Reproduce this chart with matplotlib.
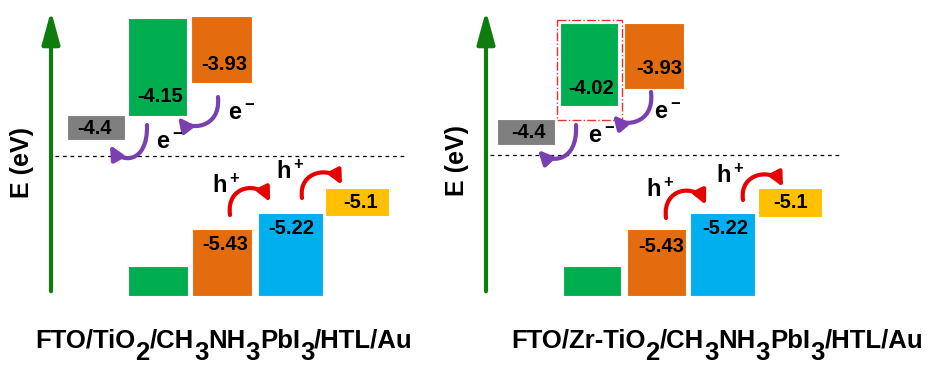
import matplotlib.pyplot as plt
from matplotlib.patches import Rectangle, FancyArrowPatch
from matplotlib.path import Path

plt.rcParams['font.family'] = ['Liberation Sans', 'DejaVu Sans']
plt.rcParams['mathtext.fontset'] = 'custom'
plt.rcParams['mathtext.rm'] = 'Liberation Sans:bold'
plt.rcParams['mathtext.bf'] = 'Liberation Sans:bold'
plt.rcParams['mathtext.it'] = 'Liberation Sans:bold'

# device stacks, written as (text, is_subscript) pieces
device_titles = [
    [('FTO/TiO', 0), ('2', 1), ('/CH', 0), ('3', 1), ('NH', 0), ('3', 1),
     ('PbI', 0), ('3', 1), ('/HTL/Au', 0)],
    [('FTO/Zr-TiO', 0), ('2', 1), ('/CH', 0), ('3', 1), ('NH', 0), ('3', 1),
     ('PbI', 0), ('3', 1), ('/HTL/Au', 0)],
]

# energy levels (eV) for the two devices
fto_wf = [-4.4, -4.4]
etl_cb = [-4.15, -4.02]
pvk_cb = [-3.93, -3.93]
pvk_vb = [-5.43, -5.43]
htl_homo = [-5.22, -5.22]
au_wf = [-5.1, -5.1]

GREEN = '#00AD4F'
ORANGE = '#E36C0E'
BLUE = '#00B0EE'
YELLOW = '#FFC000'
GRAY = '#7F7F7F'
PURPLE = '#7A3FB0'
RED = '#E80000'

# schematic layout in pixels: (x, y, w, h) per box plus label anchor
layout = [
    dict(fto=(67, 115, 58, 25, 94, 128),
         etl=(128, 18, 59, 98, 160, 97),
         etl_vb=(128, 266, 60, 30),
         pvk_cb=(191, 16, 61, 67, 224, 65),
         pvk_vb=(192, 229, 60, 67, 225, 244),
         htl=(258, 213, 65, 83, 291, 228),
         au=(325, 188, 64, 28, 361, 203),
         arrow_x=51, dash=(55, 405, 156),
         elabel=(22, 163), title_x=224,
         e1=[(147, 125), (148, 165), (120, 163), (110, 145)], e1t=(170, 143),
         e2=[(218, 97), (221, 130), (188, 130), (178, 117)], e2t=(242, 114),
         h1=[(230, 215), (226, 184), (260, 182), (270, 202)], h1t=(226, 186),
         h2=[(302, 198), (298, 170), (332, 166), (342, 185)], h2t=(290, 172),
         box=None),
    dict(fto=(497, 119, 58, 26, 528, 133),
         etl=(560, 23, 58, 83, 591, 89),
         etl_vb=(563, 266, 58, 30),
         pvk_cb=(624, 23, 60, 66, 659, 68),
         pvk_vb=(627, 229, 59, 67, 661, 246),
         htl=(690, 213, 65, 83, 725, 229),
         au=(758, 188, 64, 29, 791, 203),
         arrow_x=486, dash=(490, 840, 155),
         elabel=(457, 160), title_x=717,
         e1=[(576, 125), (578, 163), (550, 163), (538, 150)], e1t=(602, 137),
         e2=[(651, 92), (655, 125), (623, 127), (613, 115)], e2t=(668, 113),
         h1=[(666, 218), (662, 187), (696, 184), (706, 205)], h1t=(660, 190),
         h2=[(743, 200), (739, 172), (773, 168), (783, 187)], h2t=(730, 176),
         box=(557, 20, 65, 100)),
]

fig = plt.figure(figsize=(9.32, 3.65), dpi=100)
ax = fig.add_axes([0, 0, 1, 1])
ax.set_xlim(0, 932)
ax.set_ylim(365, 0)
ax.axis('off')
renderer = fig.canvas.get_renderer()

lab_kw = dict(fontsize=14.5, fontweight='bold', color='black', ha='center', va='center')


def draw_box(spec, color, value=None, z=2):
    x, y, w, h = spec[:4]
    ax.add_patch(Rectangle((x, y), w, h, facecolor=color, edgecolor='white', lw=0.8, zorder=z))
    if value is not None:
        ax.text(spec[4], spec[5], f'{value:g}', zorder=z + 1, **lab_kw)


def curved_arrow(pts, color):
    path = Path(pts, [Path.MOVETO, Path.CURVE4, Path.CURVE4, Path.CURVE4])
    arr = FancyArrowPatch(path=path, arrowstyle='-|>,head_length=0.45,head_width=0.22',
                          mutation_scale=18, color=color, lw=3, zorder=5)
    ax.add_patch(arr)


def formula(xc, y, pieces, size=18.5, sub_drop=12):
    # lay out the pieces left to right, subscripts kept full size but lowered
    kw = dict(fontsize=size, fontweight='bold', ha='left', va='baseline')
    widths = []
    for s, _ in pieces:
        t = ax.text(0, 0, s, **kw)
        widths.append(t.get_window_extent(renderer).width)
        t.remove()
    x = xc - sum(widths) / 2
    for (s, sub), w in zip(pieces, widths):
        ax.text(x, y + (sub_drop if sub else 0), s, **kw)
        x += w


for i, L in enumerate(layout):
    # energy axis arrow
    ax.annotate('', xy=(L['arrow_x'], 8), xytext=(L['arrow_x'], 294),
                arrowprops=dict(arrowstyle='-|>,head_length=1.1,head_width=0.3',
                                color='#0E7D0E', lw=3, mutation_scale=18))
    ax.text(L['elabel'][0], L['elabel'][1], 'E (eV)', rotation=90, fontsize=18,
            fontweight='bold', ha='center', va='center')

    x0, x1, yd = L['dash']
    ax.plot([x0, x1], [yd, yd], ls=(0, (3, 3)), color='black', lw=0.9, zorder=1)

    draw_box(L['fto'], GRAY, fto_wf[i])
    draw_box(L['etl'], GREEN, etl_cb[i])
    draw_box(L['etl_vb'], GREEN)
    draw_box(L['pvk_cb'], ORANGE, pvk_cb[i])
    draw_box(L['pvk_vb'], ORANGE, pvk_vb[i])
    draw_box(L['htl'], BLUE, htl_homo[i])
    draw_box(L['au'], YELLOW, au_wf[i])

    if L['box'] is not None:
        bx, by, bw, bh = L['box']
        ax.add_patch(Rectangle((bx, by), bw, bh, fill=False, edgecolor='#F03030',
                               lw=1.0, ls='-.', zorder=4))

    curved_arrow(L['e1'], PURPLE)
    curved_arrow(L['e2'], PURPLE)
    curved_arrow(L['h1'], RED)
    curved_arrow(L['h2'], RED)
    for key, s in [('e1t', r'$\mathbf{e^-}$'), ('e2t', r'$\mathbf{e^-}$'),
                   ('h1t', r'$\mathbf{h^+}$'), ('h2t', r'$\mathbf{h^+}$')]:
        ax.text(L[key][0], L[key][1], s, fontsize=17, ha='center', va='center', zorder=6)

    formula(L['title_x'], 348, device_titles[i])

fig.savefig('out.png', dpi=100)
